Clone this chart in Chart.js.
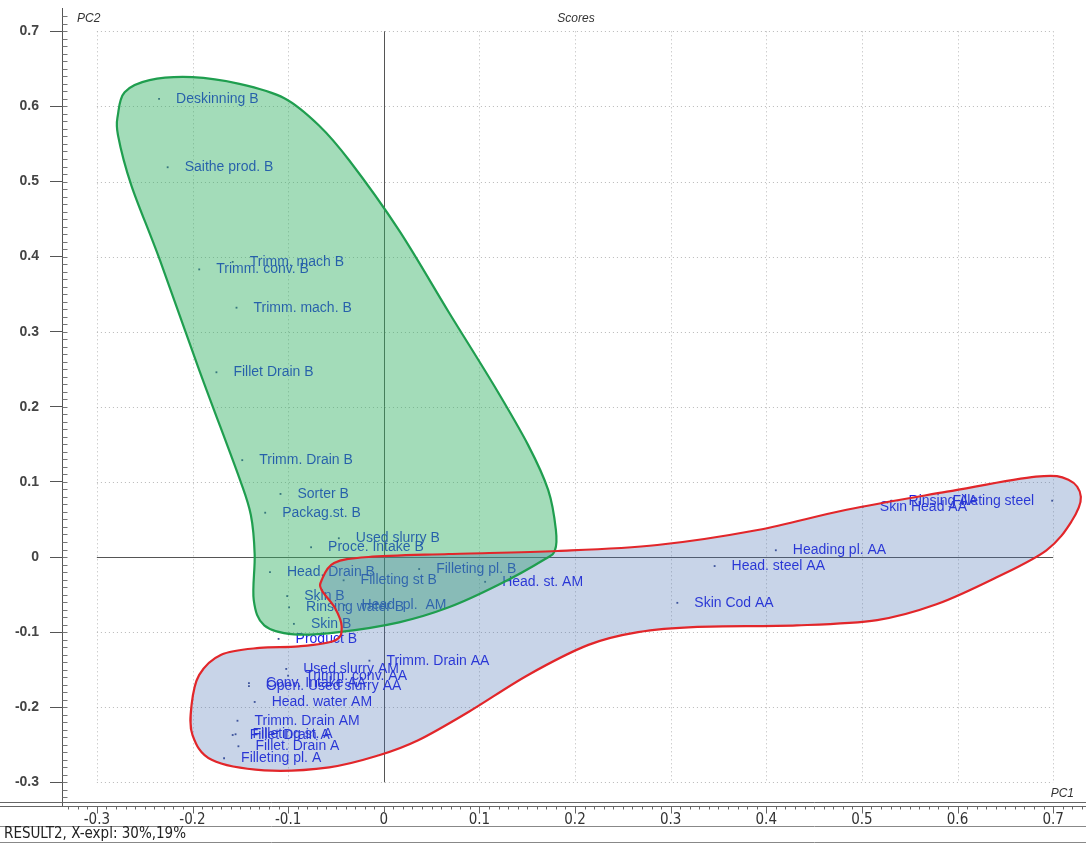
<!DOCTYPE html>
<html>
<head>
<meta charset="utf-8">
<script src="https://cdn.jsdelivr.net/npm/chart.js@4.4.1/dist/chart.umd.min.js"></script>
<style>
  html, body { margin: 0; padding: 0; background: #fff; }
  #wrap { width: 1086px; height: 844px; position: relative; }
</style>
</head>
<body>
<div id="wrap"><canvas id="scores" width="1086" height="844"></canvas></div>
<script>
// Sample names and their PCA scores (PC1, PC2)
const sampleNames = [
  "Deskinning B", "Saithe prod. B", "Trimm. mach B", "Trimm. conv. B", "Trimm. mach. B",
  "Fillet Drain B", "Trimm. Drain B", "Sorter B", "Packag.st. B", "Used slurry B",
  "Proce. Intake B", "Head. Drain B", "Filleting pl. B", "Filleting st B", "Head. st. AM",
  "Skin B", "Rinsing water B", "Head. pl.  AM", "Skin B", "Product B",
  "Trimm. Drain AA", "Used slurry AM", "Trimm. conv. AA", "Conv. Intake AA", "Open. Used slurry AA",
  "Head. water AM", "Trimm. Drain AM", "Fillet Drain A", "Filleting st. A", "Fillet. Drain A",
  "Filleting pl. A", "Heading pl. AA", "Head. steel AA", "Skin Cod AA", "Skin Head AA",
  "Rinsing AA", "Filleting steel"
];
const pc1Scores = [
  -0.235, -0.226, -0.158, -0.193, -0.154,
  -0.175, -0.148, -0.108, -0.124, -0.047,
  -0.076, -0.119, 0.037, -0.042, 0.106,
  -0.101, -0.099, -0.041, -0.094, -0.110,
  -0.015, -0.102, -0.100, -0.141, -0.141,
  -0.135, -0.153, -0.158, -0.155, -0.152,
  -0.167, 0.410, 0.346, 0.307, 0.501,
  0.531, 0.699
];
const pc2Scores = [
  0.610, 0.519, 0.393, 0.383, 0.332,
  0.246, 0.129, 0.084, 0.059, 0.025,
  0.013, -0.020, -0.016, -0.031, -0.033,
  -0.052, -0.067, -0.064, -0.089, -0.109,
  -0.138, -0.149, -0.158, -0.168, -0.172,
  -0.193, -0.218, -0.237, -0.236, -0.252,
  -0.268, 0.009, -0.012, -0.061, 0.067,
  0.075, 0.075
];

// Axis ticks
const tickValues = [-0.3, -0.2, -0.1, 0, 0.1, 0.2, 0.3, 0.4, 0.5, 0.6, 0.7];

// Group outlines (score-space vertices of the enclosing curves)
const groupBOutlinePc1 = [
  -0.278, -0.271, -0.245, -0.200, -0.151, -0.104, -0.068, -0.036, 0.016, 0.068,
  0.115, 0.151, 0.172, 0.180, 0.179, 0.167, 0.120, 0.068, 0.016, -0.047,
  -0.094, -0.125, -0.136, -0.135, -0.139, -0.151, -0.193, -0.234, -0.264, -0.278
];
const groupBOutlinePc2 = [
  0.589, 0.619, 0.635, 0.639, 0.630, 0.611, 0.575, 0.528, 0.435, 0.326,
  0.229, 0.149, 0.089, 0.036, 0.009, -0.004, -0.037, -0.067, -0.087, -0.100,
  -0.103, -0.091, -0.057, 0.003, 0.056, 0.105, 0.249, 0.395, 0.495, 0.562
];
const groupAOutlinePc1 = [
  -0.065, -0.052, -0.016, 0.068, 0.182, 0.286, 0.391, 0.484, 0.589, 0.682,
  0.716, 0.729, 0.719, 0.693, 0.641, 0.578, 0.516, 0.432, 0.328, 0.266,
  0.214, 0.151, 0.089, 0.036, -0.005, -0.057, -0.125, -0.180, -0.200, -0.201,
  -0.193, -0.170, -0.130, -0.089, -0.051, -0.044, -0.051, -0.065
];
const groupAOutlinePc2 = [
  -0.031, -0.008, 0.000, 0.004, 0.008, 0.016, 0.036, 0.063, 0.087, 0.107,
  0.103, 0.080, 0.047, 0.009, -0.027, -0.063, -0.084, -0.091, -0.093, -0.100,
  -0.117, -0.157, -0.206, -0.244, -0.264, -0.280, -0.284, -0.270, -0.237, -0.197,
  -0.157, -0.130, -0.121, -0.119, -0.111, -0.093, -0.068, -0.044
];

const points = pc1Scores.map((v, i) => ({ x: v, y: pc2Scores[i] }));

const LABEL_FONT = '14px "Liberation Sans", Arial, sans-serif';
const NARROW_FONT = '"Liberation Sans Narrow", "DejaVu Sans Condensed", "Liberation Sans", sans-serif';

function closedSpline(ctx, pts) {
  const n = pts.length;
  ctx.moveTo(pts[0].x, pts[0].y);
  for (let i = 0; i < n; i++) {
    const p0 = pts[(i - 1 + n) % n], p1 = pts[i], p2 = pts[(i + 1) % n], p3 = pts[(i + 2) % n];
    ctx.bezierCurveTo(
      p1.x + (p2.x - p0.x) / 6, p1.y + (p2.y - p0.y) / 6,
      p2.x - (p3.x - p1.x) / 6, p2.y - (p3.y - p1.y) / 6,
      p2.x, p2.y
    );
  }
  ctx.closePath();
}

// Frame, grid, zero lines, rulers and captions
const framePlugin = {
  id: 'frame',
  beforeDatasetsDraw(chart) {
    const { ctx, chartArea: a, scales: { x, y } } = chart;
    const x0 = x.getPixelForValue(tickValues[0]), x1 = x.getPixelForValue(tickValues[tickValues.length - 1]);
    const y0 = y.getPixelForValue(tickValues[0]), y1 = y.getPixelForValue(tickValues[tickValues.length - 1]);
    ctx.save();
    // dotted grid
    ctx.strokeStyle = '#b8b8b8';
    ctx.lineWidth = 1;
    ctx.setLineDash([1, 3]);
    tickValues.forEach(v => {
      const py = Math.round(y.getPixelForValue(v)) + 0.5;
      ctx.beginPath(); ctx.moveTo(x0, py); ctx.lineTo(x1, py); ctx.stroke();
      const px = Math.round(x.getPixelForValue(v)) + 0.5;
      ctx.beginPath(); ctx.moveTo(px, y1); ctx.lineTo(px, y0); ctx.stroke();
    });
    ctx.setLineDash([]);
    // zero lines
    ctx.strokeStyle = '#555';
    const zy = Math.round(y.getPixelForValue(0)) + 0.5;
    const zx = Math.round(x.getPixelForValue(0)) + 0.5;
    ctx.beginPath(); ctx.moveTo(x0, zy); ctx.lineTo(x1, zy); ctx.stroke();
    ctx.beginPath(); ctx.moveTo(zx, y1); ctx.lineTo(zx, y0); ctx.stroke();

    // left axis line and minor ticks
    ctx.strokeStyle = '#555';
    const ax = Math.round(a.left) + 0.5;
    ctx.beginPath(); ctx.moveTo(ax, a.top - 2); ctx.lineTo(ax, a.bottom + 4); ctx.stroke();
    ctx.strokeStyle = '#777';
    for (let k = Math.ceil(y.min * 100); k <= Math.floor(y.max * 100); k++) {
      const py = Math.round(y.getPixelForValue(k / 100)) + 0.5;
      ctx.beginPath(); ctx.moveTo(ax, py); ctx.lineTo(ax + 5, py); ctx.stroke();
    }

    // bottom ruler: double line and ticks
    const b1 = Math.round(a.bottom) + 0.5, b2 = b1 + 4;
    ctx.strokeStyle = '#666';
    ctx.beginPath(); ctx.moveTo(0, b1); ctx.lineTo(chart.width, b1); ctx.stroke();
    ctx.beginPath(); ctx.moveTo(0, b2); ctx.lineTo(chart.width, b2); ctx.stroke();
    for (let k = Math.ceil(x.min * 100); k <= Math.floor(x.max * 100); k++) {
      const px = Math.round(x.getPixelForValue(k / 100)) + 0.5;
      const major = k % 10 === 0;
      ctx.beginPath(); ctx.moveTo(px, b2); ctx.lineTo(px, b2 + (major ? 7 : 3)); ctx.stroke();
    }
    // caption band
    ctx.strokeStyle = '#888';
    ctx.beginPath(); ctx.moveTo(0, 826.5); ctx.lineTo(chart.width, 826.5); ctx.stroke();
    ctx.beginPath(); ctx.moveTo(0, 842.5); ctx.lineTo(chart.width, 842.5); ctx.stroke();
    ctx.fillStyle = '#222';
    ctx.font = '15px ' + NARROW_FONT;
    ctx.textAlign = 'left'; ctx.textBaseline = 'middle';
    ctx.fillText('RESULT2, X-expl: 30%,19%', 4, 834);

    // titles
    ctx.font = 'italic 12px "Liberation Sans", Arial, sans-serif';
    ctx.fillStyle = '#333';
    ctx.textAlign = 'center';
    ctx.fillText('Scores', (a.left + a.right) / 2 + 4, 19);
    ctx.textAlign = 'left';
    ctx.fillText('PC2', a.left + 15, 19);
    ctx.textAlign = 'right';
    ctx.fillText('PC1', a.right - 8, 794);
    ctx.restore();
  }
};

// Sample labels, then the translucent group outlines over them
const labelPlugin = {
  id: 'sampleLabels',
  afterDatasetsDraw(chart) {
    const { ctx, chartArea: a, scales: { x, y } } = chart;
    const meta = chart.getDatasetMeta(0);
    ctx.save();
    ctx.font = LABEL_FONT;
    ctx.fillStyle = 'rgb(28,30,228)';
    ctx.textBaseline = 'middle';
    meta.data.forEach((el, i) => {
      const name = sampleNames[i];
      const w = ctx.measureText(name).width;
      if (el.x + 17 + w > a.right) {
        ctx.textAlign = 'right';
        ctx.fillText(name, el.x - 18, el.y);
      } else {
        ctx.textAlign = 'left';
        ctx.fillText(name, el.x + 17, el.y);
      }
    });

    const toPx = (xs, ys) => xs.map((v, i) => ({ x: x.getPixelForValue(v), y: y.getPixelForValue(ys[i]) }));
    const groupB = toPx(groupBOutlinePc1, groupBOutlinePc2);
    const groupA = toPx(groupAOutlinePc1, groupAOutlinePc2);

    ctx.beginPath(); closedSpline(ctx, groupB);
    ctx.fillStyle = 'rgba(51,178,100,0.45)'; ctx.fill();
    ctx.beginPath(); closedSpline(ctx, groupA);
    ctx.fillStyle = 'rgba(72,112,178,0.3)'; ctx.fill();

    ctx.lineWidth = 2.2;
    ctx.beginPath(); closedSpline(ctx, groupB);
    ctx.strokeStyle = '#1f9e4f'; ctx.stroke();
    ctx.beginPath(); closedSpline(ctx, groupA);
    ctx.strokeStyle = '#e2262a'; ctx.stroke();
    ctx.restore();
  }
};

const fmt = v => String(Math.round(v * 10) / 10);

new Chart(document.getElementById('scores'), {
  type: 'scatter',
  data: {
    datasets: [{
      data: points,
      pointStyle: 'rect',
      pointRadius: 1.3,
      pointBackgroundColor: '#3a4892',
      pointBorderWidth: 0
    }]
  },
  options: {
    responsive: false,
    animation: false,
    devicePixelRatio: 1,
    layout: { padding: { top: 10, left: 0, right: 0, bottom: 0 } },
    plugins: { legend: { display: false }, tooltip: { enabled: false } },
    scales: {
      x: {
        type: 'linear',
        min: -0.3365,
        max: 0.7302,
        afterBuildTicks: s => { s.ticks = tickValues.map(v => ({ value: v })); },
        afterFit: s => { s.height = 42; s.paddingLeft = 0; s.paddingRight = 0; },
        grid: { display: false, drawTicks: false },
        border: { display: false },
        ticks: {
          padding: 9,
          color: '#333',
          font: { family: NARROW_FONT, size: 15 },
          maxRotation: 0,
          callback: fmt
        }
      },
      y: {
        type: 'linear',
        min: -0.3262,
        max: 0.7284,
        afterBuildTicks: s => { s.ticks = tickValues.map(v => ({ value: v })); },
        afterFit: s => { s.width = 62; s.paddingTop = 0; s.paddingBottom = 0; },
        grid: { display: true, drawOnChartArea: false, drawTicks: true, tickLength: 12, color: '#555' },
        border: { display: false },
        ticks: {
          padding: 11,
          color: '#444',
          font: { family: '"Liberation Sans", Arial, sans-serif', size: 14, weight: 'bold' },
          callback: fmt
        }
      }
    }
  },
  plugins: [framePlugin, labelPlugin]
});
</script>
</body>
</html>
